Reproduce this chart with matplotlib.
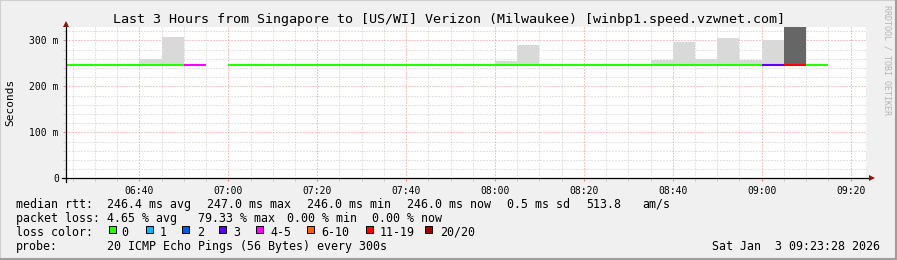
import matplotlib
matplotlib.use('Agg')
import matplotlib.pyplot as plt
from matplotlib.lines import Line2D
from matplotlib.patches import Rectangle
from matplotlib.ticker import FixedLocator, MultipleLocator
import numpy as np

W, H = 897, 260

# start of each 5 minute step
step_times = ['06:20', '06:25', '06:30', '06:35', '06:40', '06:45', '06:50',
              '06:55', '07:00', '07:05', '07:10', '07:15', '07:20', '07:25',
              '07:30', '07:35', '07:40', '07:45', '07:50', '07:55', '08:00',
              '08:05', '08:10', '08:15', '08:20', '08:25', '08:30', '08:35',
              '08:40', '08:45', '08:50', '08:55', '09:00', '09:05', '09:10']
nan = np.nan
median_ms = [247, 247, 247, 247, 247, 247, 247,
             nan, 247, 247, 247, 247, 247, 247,
             246, 246, 246, 246, 246, 246, 246,
             246, 246, 246, 246, 246, 246, 246,
             246, 246, 246, 246, 246, 246, 246]
smoke_max_ms = [nan, nan, nan, nan, 259, 307, nan,
                nan, nan, nan, nan, nan, nan, nan,
                nan, nan, nan, nan, nan, nan, 256,
                290, nan, nan, nan, nan, nan, 258,
                297, 259, 305, 258, 301, 330, nan]
lost_pings = [0, 0, 0, 0, 0, 0, 5,
              nan, 0, 0, 0, 0, 0, 0,
              0, 0, 0, 0, 0, 0, 0,
              0, 0, 0, 0, 0, 0, 0,
              0, 0, 0, 0, 3, 16, 0]

x_tick_labels = ['06:40', '07:00', '07:20', '07:40', '08:00', '08:20', '08:40', '09:00', '09:20']
y_ticks_ms = [0, 100, 200, 300]
y_tick_labels = ['0', '100 m', '200 m', '300 m']

loss_names = ['0', '1', '2', '3', '4-5', '6-10', '11-19', '20/20']
loss_colors = ['#26ff00', '#00b8ff', '#0059ff', '#5e00ff', '#ff00ff', '#ff5e00', '#ff0000', '#a10000']

rtt_stats = ['246.4 ms avg', '247.0 ms max', '246.0 ms min', '246.0 ms now', '0.5 ms sd', '513.8', 'am/s']
loss_stats = ['4.65 % avg', '79.33 % max', '0.00 % min', '0.00 % now']
probe_text = '20 ICMP Echo Pings (56 Bytes) every 300s'
date_text = 'Sat Jan  3 09:23:28 2026'
title = 'Last 3 Hours from Singapore to [US/WI] Verizon (Milwaukee) [winbp1.speed.vzwnet.com]'

MONO = 'DejaVu Sans Mono'
BG = '#f0f0f0'
GRID = '#c8c8c8'
MGRID = '#f08a8a'


def to_min(t):
    h, m = t.split(':')
    return int(h) * 60 + int(m)


def fx(x):
    return x / W


def fy(y):
    return 1 - y / H


def loss_color(n):
    if n == 0:
        return loss_colors[0]
    if n <= 3:
        return loss_colors[int(n)]
    if n <= 5:
        return loss_colors[4]
    if n <= 10:
        return loss_colors[5]
    if n <= 19:
        return loss_colors[6]
    return loss_colors[7]


starts = np.array([to_min(t) for t in step_times], dtype=float)

fig = plt.figure(figsize=(W / 100, H / 100), dpi=100, facecolor=BG)

# plot area in pixels
left, right, top, bottom = 66.0, 866.0, 27.3, 178.3
ax = fig.add_axes([fx(left), fy(bottom), (right - left) / W, (bottom - top) / H])
ax.set_facecolor('white')

x0 = to_min('06:23') + 28 / 60
ax.set_xlim(x0, x0 + 180)
ax.set_ylim(0, 328.3)

# smoke
for s, med, mx, lost in zip(starts, median_ms, smoke_max_ms, lost_pings):
    if np.isnan(mx) or np.isnan(med):
        continue
    shade = '#666666' if lost >= 11 else '#d9d9d9'
    ax.bar(s, mx - med, bottom=med, width=5, align='edge', color=shade, linewidth=0, zorder=2)

# median line coloured by loss
for s, med, lost in zip(starts, median_ms, lost_pings):
    if np.isnan(med):
        continue
    ax.hlines(med, s, s + 5, colors=loss_color(lost), linewidth=1.5, capstyle='butt', zorder=3)

# grid
ax.xaxis.set_major_locator(FixedLocator([to_min(t) for t in x_tick_labels]))
ax.set_xticklabels(x_tick_labels)
ax.xaxis.set_minor_locator(MultipleLocator(5))
ax.yaxis.set_major_locator(FixedLocator(y_ticks_ms))
ax.set_yticklabels(y_tick_labels)
ax.yaxis.set_minor_locator(MultipleLocator(20))
ax.grid(which='minor', color=GRID, linestyle=(0, (1, 2)), linewidth=0.72, zorder=0)
ax.grid(which='major', color=MGRID, linestyle=(0, (1, 2)), linewidth=0.72, zorder=1)
ax.set_axisbelow(True)

for sp in ax.spines.values():
    sp.set_visible(False)
ax.tick_params(which='both', direction='out', width=0.72, labelsize=7, pad=3)
ax.tick_params(which='major', length=2.2, color=MGRID)
ax.tick_params(which='minor', length=2.2, color=GRID)
for lab in ax.get_xticklabels() + ax.get_yticklabels():
    lab.set_family(MONO)

# axis lines with arrows
axis_col = '#000000'
arrow_col = '#8f1414'
fig.add_artist(Line2D([fx(62), fx(870)], [fy(bottom), fy(bottom)], color=axis_col, linewidth=0.9))
fig.add_artist(Line2D([fx(left + 0.3), fx(left + 0.3)], [fy(181.5), fy(23)], color=axis_col, linewidth=0.9))
fig.add_artist(Line2D([fx(left + 0.3)], [fy(23.5)], marker='^', markersize=4, color=arrow_col,
                      markeredgewidth=0))
fig.add_artist(Line2D([fx(871.5)], [fy(bottom)], marker='>', markersize=4, color=arrow_col,
                      markeredgewidth=0))

# texts
fig.text(0.5, fy(19.3), title, ha='center', va='center', family=MONO, fontsize=9.6)
fig.text(fx(10.7), fy(102), 'Seconds', rotation=90, ha='center', va='center', family=MONO, fontsize=8)
fig.text(fx(887), fy(5), 'RRDTOOL / TOBI OETIKER', rotation=270, ha='center', va='top',
         family=MONO, fontsize=6, color='#b4b4b4')

lfs = 8.4
row_y = [204.3, 218.3, 232.3, 246.3]
fig.text(fx(16), fy(row_y[0]), 'median rtt:', ha='left', va='center', family=MONO, fontsize=lfs)
for txt, xp in zip(rtt_stats, [107.3, 207.3, 307.3, 407.3, 506.7, 586, 642.3]):
    fig.text(fx(xp), fy(row_y[0]), txt, ha='left', va='center', family=MONO, fontsize=lfs)
fig.text(fx(16), fy(row_y[1]), 'packet loss:', ha='left', va='center', family=MONO, fontsize=lfs)
for txt, xp in zip(loss_stats, [107.3, 197.7, 286.7, 372.3]):
    fig.text(fx(xp), fy(row_y[1]), txt, ha='left', va='center', family=MONO, fontsize=lfs)
fig.text(fx(16), fy(row_y[2]), 'loss color:', ha='left', va='center', family=MONO, fontsize=lfs)
box_x = [109.3, 145.7, 182.3, 219, 256, 306.7, 365.7, 425]
label_x = [121, 160, 196.7, 233.3, 270.7, 321.7, 380, 440]
for name, col, bx, lx in zip(loss_names, loss_colors, box_x, label_x):
    fig.add_artist(Rectangle((fx(bx), fy(232.8)), 7 / W, 7 / H, facecolor=col,
                             edgecolor='#000000', linewidth=0.7, transform=fig.transFigure))
    fig.text(fx(lx), fy(row_y[2]), name, ha='left', va='center', family=MONO, fontsize=lfs)
fig.text(fx(16), fy(row_y[3]), 'probe:', ha='left', va='center', family=MONO, fontsize=lfs)
fig.text(fx(107.3), fy(row_y[3]), probe_text, ha='left', va='center', family=MONO, fontsize=lfs)
fig.text(fx(880), fy(row_y[3]), date_text, ha='right', va='center', family=MONO, fontsize=lfs)

# image frame
fig.add_artist(Line2D([0, 0, 1], [0, 1, 1], color='#cfcfcf', linewidth=1.5))
fig.add_artist(Line2D([0, 1, 1], [fy(259), fy(259), 1], color='#9e9e9e', linewidth=1.5))
fig.add_artist(Line2D([fx(896), fx(896)], [0, 1], color='#9e9e9e', linewidth=1.5))

fig.savefig('out.png', dpi=100, facecolor=BG)
